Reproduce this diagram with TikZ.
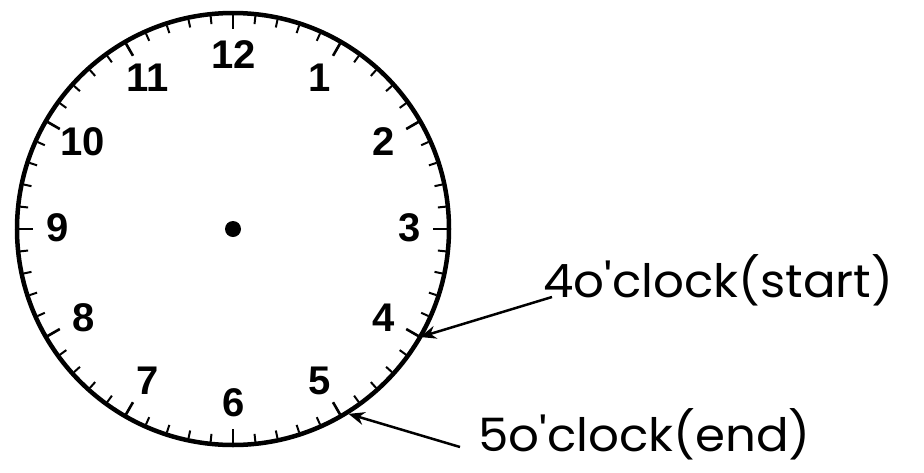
\documentclass[tikz,border=0pt]{standalone}
\usepackage{fontspec}
\setmainfont{Liberation Sans}
\newfontfamily\handfont[FakeStretch=1.05]{Poppins}
\usetikzlibrary{arrows.meta}

\begin{document}
\begin{tikzpicture}[x=1pt, y=-1pt,
            numeral/.style={font=\fontsize{40}{40}\selectfont\bfseries, inner sep=0pt},
            note/.style={font=\handfont\fontsize{46}{46}\selectfont, inner sep=0pt, anchor=base west},
            tick_min/.style={line width=2pt},
            tick_hour/.style={line width=2.6pt},
            pointer/.style={-{Stealth[length=16pt, width=13pt]}, line width=2.5pt}
        ]

    \useasboundingbox (0,0) rectangle (924,472);

    % dial
    \node[circle, fill, minimum size=16pt, inner sep=0pt] (hub) at (233,229) {};
    \draw[line width=4.5pt] (hub.center) circle [radius=216pt];
    \foreach \m in {0,...,59}
        \draw[tick_min, shift={(hub.center)}] (\m*6:214) -- (\m*6:206);
    \foreach \h in {0,...,11}
        \draw[tick_hour, shift={(hub.center)}] (\h*30:214) -- (\h*30:200);

    \node[numeral] (h12) at (234,55)  {12};
    \node[numeral] (h1)  at (320,78)  {1};
    \node[numeral] (h2)  at (384,142) {2};
    \node[numeral] (h3)  at (410,228) {3};
    \node[numeral] (h4)  at (384,318) {4};
    \node[numeral] (h5)  at (320,381) {5};
    \node[numeral] (h6)  at (234,403) {6};
    \node[numeral] (h7)  at (148,381) {7};
    \node[numeral] (h8)  at (84,318)  {8};
    \node[numeral] (h9)  at (58,228)  {9};
    \node[numeral] (h10) at (83,142)  {10};
    \node[numeral] (h11) at (148,78)  {11};

    % start and end marks
    \path (hub.center) ++(30:216) coordinate (c4);
    \path (hub.center) ++(58:218) coordinate (c5);

    \node[note] (start)  at (543,297) {4o'clock(start)};
    \node[note] (finish) at (478,451) {5o'clock(end)};

    \draw[pointer] ([xshift=9pt]start.base west) -- (c4);
    \draw[pointer] ([xshift=-18pt, yshift=4pt]finish.base west) -- (c5);

\end{tikzpicture}
\end{document}
